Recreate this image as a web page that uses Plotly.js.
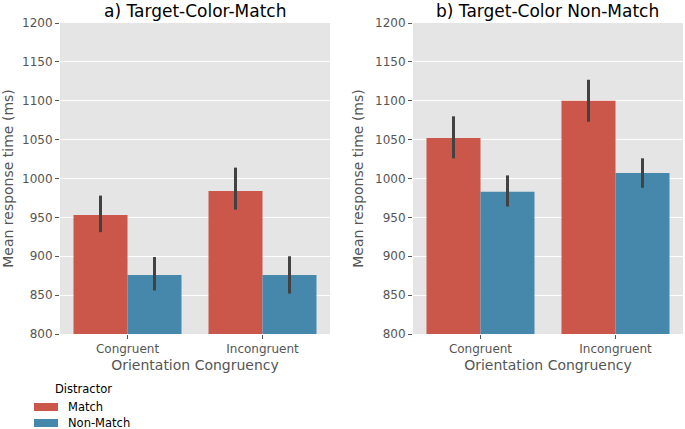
<!DOCTYPE html>
<html>
<head>
<meta charset="utf-8">
<script src="https://cdn.plot.ly/plotly-3.0.1.min.js"></script>
<style>html,body{margin:0;padding:0;background:#fff;}#chart{width:685px;height:429px;}</style>
</head>
<body>
<div id="chart"></div>
<script>
const categories = ["Congruent", "Incongruent"];
const seriesNames = ["Match", "Non-Match"];
const legendTitle = "Distractor";
// Panel a) Target-Color-Match
const aMatch = [953, 984];
const aMatchLo = [931, 960];
const aMatchHi = [978, 1014];
const aNon = [876, 876];
const aNonLo = [856, 852];
const aNonHi = [899, 900];
// Panel b) Target-Color Non-Match
const bMatch = [1052, 1100];
const bMatchLo = [1026, 1073];
const bMatchHi = [1080, 1127];
const bNon = [983, 1007];
const bNonLo = [964, 988];
const bNonHi = [1004, 1026];
const yTicks = [800, 850, 900, 950, 1000, 1050, 1100, 1150, 1200];

const colors = ["#CB574A", "#4588AC"];
const errColor = "#424242";

function mk(vals, lo, hi, i, xa, ya) {
  return {
    type: "bar", x: categories, y: vals, name: seriesNames[i],
    xaxis: xa, yaxis: ya, showlegend: false,
    marker: {color: colors[i], line: {width: 0}},
    error_y: {type: "data", array: hi.map((h, k) => h - vals[k]),
      arrayminus: vals.map((v, k) => v - lo[k]), color: errColor, thickness: 3, width: 0}
  };
}
const data = [
  mk(aMatch, aMatchLo, aMatchHi, 0, "x", "y"),
  mk(aNon, aNonLo, aNonHi, 1, "x", "y"),
  mk(bMatch, bMatchLo, bMatchHi, 0, "x2", "y2"),
  mk(bNon, bNonLo, bNonHi, 1, "x2", "y2")
];
const font = {family: "DejaVu Sans", color: "#555555"};
function xax(domain, anchor) {
  return {domain: domain, anchor: anchor, showgrid: false, ticks: "outside", ticklen: 4, tickcolor: "#555",
    tickfont: {family: "DejaVu Sans", size: 12, color: "#555"},
    title: {text: "Orientation Congruency", font: {family: "DejaVu Sans", size: 14, color: "#555"}, standoff: 4},
    showline: false, zeroline: false, automargin: false};
}
function yax(anchor) {
  return {anchor: anchor, range: [800, 1200], tickvals: yTicks, ticks: "outside", ticklen: 4, tickcolor: "#555",
    gridcolor: "#FFFFFF", gridwidth: 1, zeroline: false, showline: false, automargin: false,
    tickfont: {family: "DejaVu Sans", size: 12, color: "#555"},
    title: {text: "Mean response time (ms)", font: {family: "DejaVu Sans", size: 14, color: "#555"}, standoff: 8}};
}
// manual legend (paper coords: plot area spans 60..683 px in x, 23..334 px in y)
const pw = 623, ph = 311;
const px = v => (v - 60) / pw;
const py = v => (334 - v) / ph;
const legendRows = [407, 423];
const shapes = seriesNames.map((n, i) => ({
  type: "rect", xref: "paper", yref: "paper",
  x0: px(34), x1: px(58), y0: py(legendRows[i] - 4), y1: py(legendRows[i] + 4),
  fillcolor: colors[i], line: {width: 0}
}));
const annotations = [
  {text: "a) Target-Color-Match", xref: "x domain", yref: "paper", x: 0.5, y: 1, yanchor: "bottom", yshift: 0,
   showarrow: false, font: {family: "DejaVu Sans", size: 17, color: "#000"}},
  {text: "b) Target-Color Non-Match", xref: "x2 domain", yref: "paper", x: 0.5, y: 1, yanchor: "bottom", yshift: 0,
   showarrow: false, font: {family: "DejaVu Sans", size: 17, color: "#000"}},
  {text: legendTitle, xref: "paper", yref: "paper", x: px(53), y: py(389), xanchor: "left", yanchor: "middle",
   showarrow: false, font: {family: "DejaVu Sans", size: 11.5, color: "#000"}}
].concat(seriesNames.map((n, i) => ({
  text: n, xref: "paper", yref: "paper", x: px(66), y: py(legendRows[i]), xanchor: "left", yanchor: "middle",
  showarrow: false, font: {family: "DejaVu Sans", size: 11.5, color: "#000"}
})));
const layout = {
  width: 685, height: 429,
  margin: {l: 60, r: 2, t: 23, b: 95},
  paper_bgcolor: "#FFFFFF", plot_bgcolor: "#E5E5E5",
  font: font, showlegend: false,
  barmode: "group", bargap: 0.2, bargroupgap: 0,
  xaxis: xax([0, 0.4334], "y"),
  yaxis: yax("x"),
  xaxis2: xax([0.5666, 1], "y2"),
  yaxis2: yax("x2"),
  shapes: shapes,
  annotations: annotations
};
Plotly.newPlot("chart", data, layout, {displayModeBar: false, staticPlot: true});
</script>
</body>
</html>
